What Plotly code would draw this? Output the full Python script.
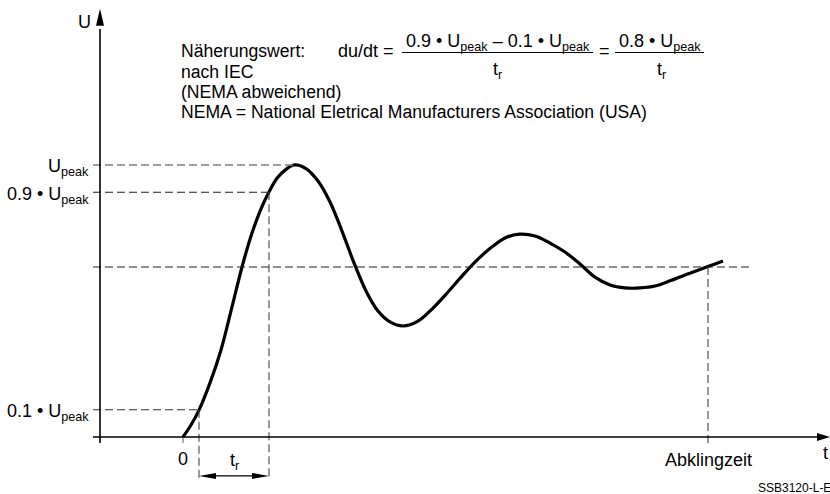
import plotly.graph_objects as go

# Voltage pulse: time in arbitrary units, voltage normalised to U_peak = 1
t_vals = [0.00, 0.08, 0.16, 0.27, 0.38, 0.49, 0.59, 0.69, 0.78, 0.86, 0.94, 1.03,
          1.11, 1.23, 1.35, 1.47, 1.59, 1.71, 1.83, 1.95, 2.07, 2.20,
          2.35, 2.50, 2.65, 2.80, 2.95, 3.10, 3.24, 3.37,
          3.52, 3.67, 3.82, 3.97, 4.12, 4.27, 4.42, 4.57,
          4.72, 4.87, 5.02, 5.17, 5.32, 5.40]
u_vals = [0.000, 0.044, 0.099, 0.199, 0.320, 0.478, 0.625, 0.750, 0.839, 0.901, 0.951, 0.984,
          1.000, 0.987, 0.941, 0.864, 0.757, 0.640, 0.537, 0.463, 0.423, 0.408,
          0.426, 0.474, 0.533, 0.596, 0.654, 0.702, 0.735, 0.746,
          0.739, 0.713, 0.680, 0.636, 0.588, 0.559, 0.548, 0.548,
          0.555, 0.574, 0.596, 0.616, 0.636, 0.647]

# Reference levels and times
u_peak = 1.0
u_90 = 0.9
u_10 = 0.1
u_final = 0.625
t_10 = 0.16
t_90 = 0.86
t_peak = 1.11
t_decay = 5.25

level_labels = ["U<sub>peak</sub>", "0.9 • U<sub>peak</sub>", "0.1 • U<sub>peak</sub>"]
level_values = [u_peak, u_90, u_10]

W, H = 830, 494
X_RANGE = [-1.83, 6.47]
Y_RANGE = [-0.2096, 1.6066]

FONT = "Liberation Sans, Arial, Helvetica, sans-serif"
FS = 18
DASH = "8px,4px"


def fx(px):
    return px / W


def fy(py):
    return 1 - py / H


fig = go.Figure()

fig.add_trace(go.Scatter(
    x=t_vals, y=u_vals, mode="lines",
    line=dict(color="black", width=3.2, shape="spline", smoothing=1.0, simplify=False),
    hoverinfo="skip", showlegend=False,
))

shapes = []

x_left = -0.90      # start of horizontal axis / dashed guides
y_axis_t = -0.83    # position of the vertical axis
below = -0.158      # bottom of t_r guide lines
tick_low = -0.022

# horizontal dashed guides
shapes.append(dict(type="line", xref="x", yref="y", x0=x_left, x1=t_peak, y0=u_peak, y1=u_peak,
                   line=dict(color="#808080", width=1.3, dash=DASH)))
shapes.append(dict(type="line", xref="x", yref="y", x0=x_left, x1=t_90, y0=u_90, y1=u_90,
                   line=dict(color="#222222", width=1.1, dash=DASH)))
shapes.append(dict(type="line", xref="x", yref="y", x0=x_left, x1=t_10, y0=u_10, y1=u_10,
                   line=dict(color="#333333", width=1.1, dash=DASH)))
shapes.append(dict(type="line", xref="x", yref="y", x0=x_left, x1=5.66, y0=u_final, y1=u_final,
                   line=dict(color="#222222", width=1.1, dash=DASH)))

# vertical dashed guides
shapes.append(dict(type="line", xref="x", yref="y", x0=t_10, x1=t_10, y0=u_10, y1=below,
                   line=dict(color="#444444", width=1.1, dash=DASH)))
shapes.append(dict(type="line", xref="x", yref="y", x0=t_90, x1=t_90, y0=u_90, y1=below,
                   line=dict(color="#444444", width=1.1, dash=DASH)))
shapes.append(dict(type="line", xref="x", yref="y", x0=t_decay, x1=t_decay, y0=u_final, y1=tick_low,
                   line=dict(color="#444444", width=1.1, dash=DASH)))
shapes.append(dict(type="line", xref="x", yref="y", x0=0, x1=0, y0=0, y1=tick_low,
                   line=dict(color="#777777", width=1.2)))

# axes
shapes.append(dict(type="line", xref="x", yref="y", x0=x_left, x1=6.40, y0=0, y1=0,
                   line=dict(color="black", width=1.6)))
shapes.append(dict(type="line", xref="x", yref="y", x0=y_axis_t, x1=y_axis_t, y0=tick_low, y1=1.50,
                   line=dict(color="black", width=1.6)))
shapes.append(dict(type="path", xref="x", yref="y", xsizemode="pixel", ysizemode="pixel",
                   xanchor=X_RANGE[1], yanchor=0, path="M 0 0 L -13 4 L -13 -4 Z",
                   fillcolor="black", line=dict(width=0)))
shapes.append(dict(type="path", xref="x", yref="y", xsizemode="pixel", ysizemode="pixel",
                   xanchor=y_axis_t, yanchor=1.574, path="M 0 0 L -4 -17 L 4 -17 Z",
                   fillcolor="black", line=dict(width=0)))

# t_r dimension arrow
t_arrow_u = -0.143
shapes.append(dict(type="line", xref="x", yref="y", x0=t_10 + 0.05, x1=t_90 - 0.05,
                   y0=t_arrow_u, y1=t_arrow_u, line=dict(color="black", width=1.4)))
shapes.append(dict(type="path", xref="x", yref="y", xsizemode="pixel", ysizemode="pixel",
                   xanchor=t_10, yanchor=t_arrow_u, path="M 0 0 L 17 3 L 17 -3 Z",
                   fillcolor="black", line=dict(width=0)))
shapes.append(dict(type="path", xref="x", yref="y", xsizemode="pixel", ysizemode="pixel",
                   xanchor=t_90, yanchor=t_arrow_u, path="M 0 0 L -17 3 L -17 -3 Z",
                   fillcolor="black", line=dict(width=0)))

# fraction bars of the du/dt formula
shapes.append(dict(type="line", xref="paper", yref="paper", x0=fx(402), x1=fx(593), y0=fy(52.5), y1=fy(52.5),
                   line=dict(color="black", width=1.2)))
shapes.append(dict(type="line", xref="paper", yref="paper", x0=fx(615), x1=fx(704), y0=fy(52.5), y1=fy(52.5),
                   line=dict(color="black", width=1.2)))

ann = []


def txt(text, x, y, size=FS, xanchor="center", yanchor="middle", xref="paper", yref="paper", yshift=0):
    ann.append(dict(text=text, x=x, y=y, xref=xref, yref=yref, xanchor=xanchor, yanchor=yanchor,
                    yshift=yshift, showarrow=False, font=dict(family=FONT, size=size, color="black")))


# axis titles
txt("U", fx(84), fy(22))
txt("t", fx(821), fy(453), xanchor="left")

# level labels on the vertical axis
for lab, val in zip(level_labels, level_values):
    txt(lab, fx(91), val, xanchor="right", yref="y", yshift=-3)

# time axis labels
txt("0", 0, tick_low, xref="x", yref="y", yanchor="top", yshift=-4)
txt("t<sub>r</sub>", (t_10 + t_90) / 2, tick_low, xref="x", yref="y", yanchor="top", yshift=-5)
txt("Abklingzeit", t_decay, tick_low, xref="x", yref="y", yanchor="top", yshift=-5)
txt("SSB3120-L-E", fx(756), fy(488), size=12, xanchor="left")

# explanatory text block
for line_text, py in zip(["Näherungswert:", "nach IEC", "(NEMA abweichend)",
                          "NEMA = National Eletrical Manufacturers Association (USA)"],
                         [51, 72, 92, 112]):
    txt(line_text, fx(179), fy(py), size=17.6, xanchor="left")

# du/dt formula
txt("du/dt =", fx(396), fy(51), xanchor="right")
txt("0.9 • U<sub>peak</sub> – 0.1 • U<sub>peak</sub>", fx(497.5), fy(42))
txt("t<sub>r</sub>", fx(497.5), fy(70))
txt("=", fx(604), fy(51))
txt("0.8 • U<sub>peak</sub>", fx(659.5), fy(42))
txt("t<sub>r</sub>", fx(661), fy(70))

fig.update_layout(
    width=W, height=H,
    margin=dict(l=0, r=0, t=0, b=0),
    paper_bgcolor="white", plot_bgcolor="white",
    xaxis=dict(range=X_RANGE, visible=False, fixedrange=True),
    yaxis=dict(range=Y_RANGE, visible=False, fixedrange=True),
    shapes=shapes, annotations=ann,
    showlegend=False,
)

fig.write_html("out.html", config={"displayModeBar": False})
